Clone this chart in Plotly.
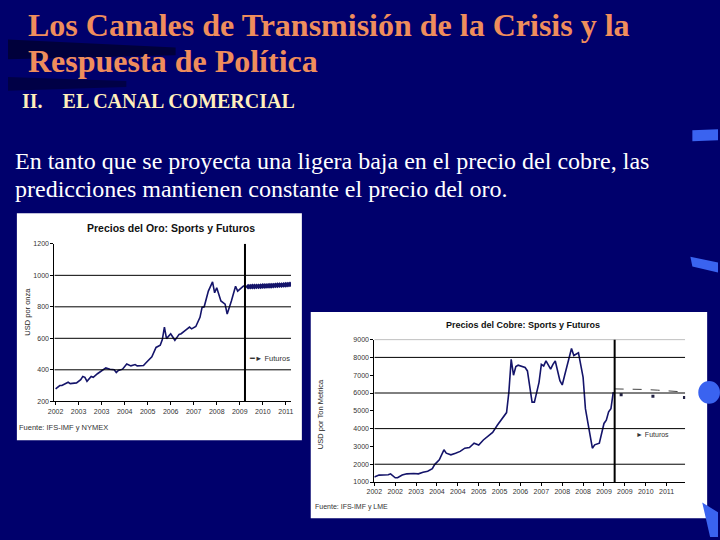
import plotly.graph_objects as go

W, H = 720, 540


def px(x):
    return x / W


def py(y):
    return 1 - y / H


# ---------------- Gold data (USD per ounce) ----------------
gold_month = [0, 2, 3, 6, 7, 9, 10, 12, 13, 14, 15, 17, 18, 20, 21, 23, 24, 26, 28, 29,
              30, 32, 34, 36, 38, 39, 42, 43, 45, 46, 48, 50, 51, 52, 53, 55, 56, 57, 59,
              60, 62, 64, 65, 67, 69, 70, 71, 73, 75, 76, 77, 78, 79, 81, 82, 84, 86, 87,
              89, 90]
gold_spot = [279, 300, 300, 321, 312, 317, 317, 337, 358, 352, 327, 358, 352, 375, 383,
             400, 412, 404, 400, 383, 396, 404, 437, 425, 433, 425, 427, 442, 467, 483,
             542, 556, 592, 671, 598, 629, 608, 587, 625, 629, 650, 671, 660, 675, 733,
             796, 800, 900, 958, 889, 921, 883, 837, 817, 754, 837, 931, 900, 925, 935]
gold_fut_month = [92, 93, 94, 95, 96, 97, 98, 99, 100, 101, 102, 103, 104, 105, 106, 107,
                  108, 109, 110, 111, 112]
gold_fut = [928, 928, 929, 929, 930, 930, 931, 932, 932, 933, 934, 934, 935, 936, 937,
            938, 938, 939, 940, 941, 943]
gold_split = 90.5
gold_tick_month = [0, 11, 22, 33, 44, 55, 66, 77, 88, 99, 110]
gold_tick_text = ["2002", "2003", "2003", "2004", "2005", "2006", "2007", "2008", "2009",
                  "2010", "2011"]
gold_yticks = [200, 400, 600, 800, 1000, 1200]

# ---------------- Copper data (USD per metric ton) ----------------
cu_month = [0, 2, 6, 7, 9, 10, 12, 14, 17, 19, 21, 23, 25, 26, 28, 30, 31, 33, 35, 37,
            39, 41, 43, 45, 47, 49, 51, 53, 55, 57, 58, 59, 60, 61, 62, 65, 66, 67, 68,
            69, 71, 72, 73, 74, 76, 77, 78, 80, 81, 82, 84, 85, 86, 88, 90, 91, 93, 94,
            95, 97, 99, 100, 101, 102, 103]
cu_spot = [1280, 1390, 1405, 1460, 1240, 1240, 1390, 1460, 1480, 1460, 1550, 1610, 1750,
           1980, 2250, 2810, 2620, 2530, 2620, 2720, 2900, 2940, 3180, 3080, 3360, 3550,
           3790, 4190, 4570, 4900, 6050, 7890, 7000, 7490, 7560, 7430, 7240, 6410, 5490,
           5490, 6600, 7610, 7520, 7800, 7340, 7610, 7800, 6690, 6450, 6970, 8070, 8500,
           8110, 8260, 6880, 5120, 3640, 2900, 3090, 3180, 4290, 4470, 4940, 5120, 6050]
cu_fut_line_month = [103.6, 110, 116, 122, 128, 131]
cu_fut_line = [6230, 6220, 6200, 6160, 6110, 6080]
cu_fut_pt_month = [106.4, 120.1, 133.7]
cu_fut_pt = [5895, 5823, 5745]
cu_split = 103.6
cu_tick_month = [0, 9, 18, 27, 36, 45, 54, 63, 72, 81, 90, 99, 108, 117, 126]
cu_tick_text = ["2002", "2002", "2003", "2004", "2004", "2005", "2005", "2006", "2007",
                "2008", "2008", "2009", "2009", "2010", "2011"]
cu_yticks = [1000, 2000, 3000, 4000, 5000, 6000, 7000, 8000, 9000]

NAVY = "#14146a"
BG = "#00006c"
CHART_FONT = "Liberation Sans, Arial, sans-serif"
SERIF = "Liberation Serif, Times New Roman, serif"

fig = go.Figure()

# Gold traces
fig.add_trace(go.Scatter(x=gold_month, y=gold_spot, mode="lines",
                         line=dict(color=NAVY, width=1.6), xaxis="x", yaxis="y",
                         showlegend=False, hoverinfo="skip"))
fig.add_trace(go.Scatter(x=gold_fut_month, y=gold_fut, mode="lines+markers",
                         line=dict(color=NAVY, width=1.2),
                         marker=dict(symbol="diamond", size=4.5, color=NAVY),
                         xaxis="x", yaxis="y", showlegend=False, hoverinfo="skip"))

# Copper traces
fig.add_trace(go.Scatter(x=cu_month, y=cu_spot, mode="lines",
                         line=dict(color=NAVY, width=1.6), xaxis="x2", yaxis="y2",
                         showlegend=False, hoverinfo="skip"))
fig.add_trace(go.Scatter(x=cu_fut_line_month, y=cu_fut_line, mode="lines",
                         line=dict(color="#444444", width=1, dash="dash"),
                         xaxis="x2", yaxis="y2", showlegend=False, hoverinfo="skip"))
fig.add_trace(go.Scatter(x=cu_fut_pt_month, y=cu_fut_pt, mode="markers",
                         marker=dict(symbol="square", size=3, color="#222244"),
                         xaxis="x2", yaxis="y2", showlegend=False, hoverinfo="skip"))

shapes = []
# white chart panels
shapes.append(dict(type="rect", xref="paper", yref="paper", x0=px(9), x1=px(298),
                   y0=py(442), y1=py(212), fillcolor="white", line=dict(width=0),
                   layer="below"))
shapes.append(dict(type="rect", xref="paper", yref="paper", x0=px(307), x1=px(709),
                   y0=py(521), y1=py(312), fillcolor="white", line=dict(width=0),
                   layer="below"))
# decorative background streaks
shapes.append(dict(type="path", xref="paper", yref="paper",
                   path=f"M {px(0)} {py(36)} L {px(170)} {py(44)} L {px(170)} {py(52)} L {px(0)} {py(56)} Z",
                   fillcolor="rgba(0,0,0,0.45)", line=dict(width=0), layer="below"))
shapes.append(dict(type="path", xref="paper", yref="paper",
                   path=f"M {px(0)} {py(74)} L {px(120)} {py(78)} L {px(120)} {py(84)} L {px(0)} {py(88)} Z",
                   fillcolor="rgba(0,0,0,0.35)", line=dict(width=0), layer="below"))
shapes.append(dict(type="path", xref="paper", yref="paper",
                   path=f"M {px(694)} {py(128)} L {px(720)} {py(127)} L {px(720)} {py(138)} L {px(694)} {py(139)} Z",
                   fillcolor="#3a63f0", line=dict(width=0), layer="below"))
shapes.append(dict(type="path", xref="paper", yref="paper",
                   path=f"M {px(692)} {py(256)} L {px(720)} {py(262)} L {px(720)} {py(272)} L {px(694)} {py(266)} Z",
                   fillcolor="#3a63f0", line=dict(width=0), layer="below"))
shapes.append(dict(type="path", xref="paper", yref="paper",
                   path=f"M {px(704)} {py(505)} L {px(720)} {py(515)} L {px(720)} {py(540)} L {px(712)} {py(540)} Z",
                   fillcolor="#3a63f0", line=dict(width=0), layer="below"))
shapes.append(dict(type="circle", xref="paper", yref="paper", x0=px(700), x1=px(722),
                   y0=py(405), y1=py(382), fillcolor="#3a63f0", line=dict(width=0),
                   layer="below"))

# gridlines (gold)
for v in gold_yticks[1:-1]:
    shapes.append(dict(type="line", xref="x", yref="y", x0=-0.6, x1=112.5, y0=v, y1=v,
                       line=dict(color="black", width=1)))
# gridlines (copper)
for v in cu_yticks[1:-1:2]:
    shapes.append(dict(type="line", xref="x2", yref="y2", x0=0, x1=134, y0=v, y1=v,
                       line=dict(color="black", width=1)))
shapes.append(dict(type="line", xref="x2", yref="y2", x0=0, x1=134, y0=cu_yticks[-1],
                   y1=cu_yticks[-1], line=dict(color="#888888", width=1)))
# split (today) lines
shapes.append(dict(type="line", xref="x", yref="y", x0=gold_split, x1=gold_split,
                   y0=gold_yticks[0], y1=gold_yticks[-1], line=dict(color="black", width=2)))
shapes.append(dict(type="line", xref="x2", yref="y2", x0=cu_split, x1=cu_split,
                   y0=cu_yticks[0], y1=cu_yticks[-1], line=dict(color="black", width=2)))

annotations = []


def txt(text, x, y, size, color, family, bold=False, xanchor="left", yanchor="middle",
        textangle=0):
    if bold:
        text = f"<b>{text}</b>"
    annotations.append(dict(text=text, x=px(x), y=py(y), xref="paper", yref="paper",
                            xanchor=xanchor, yanchor=yanchor, showarrow=False,
                            textangle=textangle, borderpad=0,
                            font=dict(size=size, color=color, family=family)))


ORANGE = "#ef8d5c"
txt("Los Canales de Transmisión de la Crisis y la", 19, 21, 32, ORANGE, SERIF, bold=True)
txt("Respuesta de Política", 19, 58, 32, ORANGE, SERIF, bold=True)
txt("II.&nbsp;&nbsp;&nbsp;&nbsp;EL CANAL COMERCIAL", 13, 98, 20, "#ffeebb", SERIF, bold=True)
txt("En tanto que se proyecta una ligera baja en el precio del cobre, las", 6, 159, 24,
    "white", SERIF)
txt("predicciones mantienen constante el precio del oro.", 6, 187, 24, "white", SERIF)

# gold chart texts
txt("Precios del Oro: Sports y Futuros", 165, 227, 10.5, "#111111", CHART_FONT, bold=True,
    xanchor="center")
txt("USD por onza", 20, 312, 7.5, "#222222", CHART_FONT, xanchor="center", textangle=-90)
txt("━► Futuros", 243, 359, 7.5, "#333333", CHART_FONT)
txt("Fuente: IFS-IMF y NYMEX", 10, 429, 7.5, "#333333", CHART_FONT)

# copper chart texts
txt("Precios del Cobre: Sports y Futuros", 522, 325, 9, "#111111", CHART_FONT, bold=True,
    xanchor="center")
txt("USD por Ton Metrica", 317, 416, 7.5, "#222222", CHART_FONT, xanchor="center",
    textangle=-90)
txt("► Futuros", 636, 436, 7, "#333333", CHART_FONT)
txt("Fuente: IFS-IMF y LME", 310, 510, 7, "#333333", CHART_FONT)

axis_common = dict(showgrid=False, zeroline=False, showline=True, linecolor="black",
                   linewidth=1, ticks="outside", ticklen=3, tickcolor="black",
                   tickfont=dict(size=7, color="#333333", family=CHART_FONT))

fig.update_layout(
    width=W, height=H, margin=dict(l=0, r=0, t=0, b=0), autosize=False,
    paper_bgcolor=BG, plot_bgcolor="rgba(0,0,0,0)",
    showlegend=False,
    xaxis=dict(domain=[px(47), px(287)], range=[-0.6, 112.5], anchor="y",
               tickmode="array", tickvals=gold_tick_month, ticktext=gold_tick_text,
               **axis_common),
    yaxis=dict(domain=[py(402.5), py(243)], range=[gold_yticks[0], gold_yticks[-1]],
               anchor="x", tickmode="array", tickvals=gold_yticks,
               ticktext=[str(v) for v in gold_yticks], **axis_common),
    xaxis2=dict(domain=[px(371.5), px(686.7)], range=[0, 134], anchor="y2",
                tickmode="array", tickvals=cu_tick_month, ticktext=cu_tick_text,
                **axis_common),
    yaxis2=dict(domain=[py(484.3), py(340)], range=[cu_yticks[0], cu_yticks[-1]],
                anchor="x2", tickmode="array", tickvals=cu_yticks,
                ticktext=[str(v) for v in cu_yticks], **axis_common),
    shapes=shapes,
    annotations=annotations,
)

fig.write_html("out.html", config={"displayModeBar": False},
               post_script="document.body.style.margin='0';document.body.style.padding='0';"
                           "document.documentElement.style.overflow='hidden';")
